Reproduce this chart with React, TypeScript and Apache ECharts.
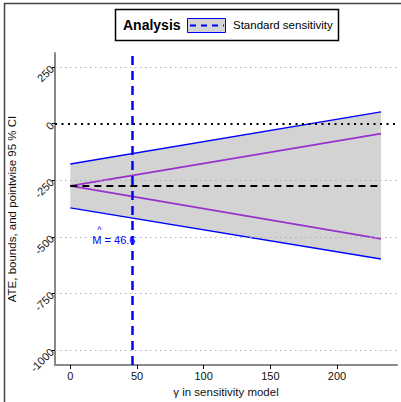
import React, { useEffect, useRef } from "react";
import * as echarts from "echarts";

const gamma = [0, 233];
const ateEstimate = [-275, -275];
const boundLower = [-275, -509];
const boundUpper = [-275, -44];
const ciLower = [-372, -598];
const ciUpper = [-178, 52];
const yTicks = [-1000, -750, -500, -250, 0, 250];
const xTicks = [0, 50, 100, 150, 200];
const gridValues = [-1000, -750, -500, -250, 250];
const mHat = 46.6;
const legendTitle = "Analysis";
const legendLabel = "Standard sensitivity";

const FONT = "Liberation Sans, Arial, sans-serif";

export default function App() {
  const ref = useRef<HTMLDivElement>(null);
  useEffect(() => {
    if (!ref.current) return;
    const chart = echarts.init(ref.current, undefined, { renderer: "svg" });
    const pair = (ys: number[]) => gamma.map((g, i) => [g, ys[i]]);
    const option: any = {
      animation: false,
      backgroundColor: "#ffffff",
      textStyle: { fontFamily: FONT },
      grid: { left: 55, right: 4, top: 53, bottom: 37, containLabel: false, outerBoundsMode: "none" },
      xAxis: {
        type: "value",
        min: -11.5,
        max: 245,
        name: "γ in sensitivity model",
        nameLocation: "middle",
        nameGap: 16,
        nameTextStyle: { fontSize: 11.5, color: "#111", fontFamily: FONT },
        axisLine: { show: true, onZero: false, lineStyle: { color: "#888", width: 2 } },
        axisTick: { show: true, customValues: xTicks, length: 4, lineStyle: { color: "#000", width: 1 } },
        axisLabel: { customValues: xTicks, fontSize: 11, color: "#111", margin: 5, fontFamily: FONT, formatter: (v: number) => String(v) },
        splitLine: { show: false },
      },
      yAxis: {
        type: "value",
        min: -1066,
        max: 312,
        name: "ATE, bounds, and pointwise 95 % CI",
        nameLocation: "middle",
        nameGap: 33,
        nameTextStyle: { fontSize: 11.5, color: "#111", fontFamily: FONT },
        axisLine: { show: true, onZero: false, lineStyle: { color: "#888", width: 2 } },
        axisTick: { show: true, customValues: yTicks, length: 3, lineStyle: { color: "#000", width: 1 } },
        axisLabel: { customValues: yTicks, fontSize: 11, color: "#111", rotate: 45, margin: 3, fontFamily: FONT, formatter: (v: number) => String(v) },
        splitLine: { show: false },
      },
      series: [
        {
          type: "custom",
          z: 1,
          silent: true,
          data: gamma.map((g, i) => [g, ciLower[i], ciUpper[i]]),
          renderItem: (params: any, api: any) => {
            if (params.dataIndex !== 0) return null;
            const up = gamma.map((g, i) => api.coord([g, ciUpper[i]]));
            const lo = gamma.map((g, i) => api.coord([g, ciLower[i]])).reverse();
            return { type: "polygon", shape: { points: [...up, ...lo] }, style: { fill: "#d3d3d3" } };
          },
        },
        {
          type: "line", z: 3, silent: true, symbol: "none", data: pair(ciUpper),
          lineStyle: { color: "#0000ff", width: 1.5 },
        },
        {
          type: "line", z: 3, silent: true, symbol: "none", data: pair(ciLower),
          lineStyle: { color: "#0000ff", width: 1.5 },
        },
        {
          type: "line", z: 3, silent: true, symbol: "none", data: pair(boundUpper),
          lineStyle: { color: "#9932cc", width: 1.6 },
        },
        {
          type: "line", z: 3, silent: true, symbol: "none", data: pair(boundLower),
          lineStyle: { color: "#9932cc", width: 1.6 },
        },
        {
          type: "line", z: 4, silent: true, symbol: "none", data: pair(ateEstimate),
          lineStyle: { color: "#000", width: 2, type: [7, 5] },
          markLine: {
            silent: true,
            symbol: "none",
            label: { show: false },
            data: [
              ...gridValues.map((v) => ({ yAxis: v, lineStyle: { color: "#b0b0b0", width: 1, type: [1.5, 3.5] } })),
              { yAxis: 0, lineStyle: { color: "#000", width: 2, type: [2, 4.5] } },
            ],
          },
        },
        {
          type: "line", z: 6, silent: true, symbol: "none", data: [],
          markLine: {
            silent: true,
            symbol: "none",
            label: { show: false },
            data: [{ xAxis: mHat, lineStyle: { color: "#0000ff", width: 2.5, type: [9, 6] } }],
          },
        },
      ],
    };
    chart.setOption(option);
    const p = chart.convertToPixel({ gridIndex: 0 }, [mHat, -514]) as number[];
    chart.setOption({
      graphic: [
        { type: "line", shape: { x1: 4, y1: 3.5, x2: 401, y2: 3.5 }, style: { stroke: "#444", lineWidth: 1.5 }, z: 10 },
        { type: "line", shape: { x1: 4.5, y1: 3, x2: 4.5, y2: 402 }, style: { stroke: "#444", lineWidth: 1.5 }, z: 10 },
        {
          type: "text", x: p[0] + 3, y: p[1], z: 10,
          style: { text: "M = " + mHat.toFixed(1), fill: "#0000ff", font: `11px ${FONT}`, textAlign: "right", textVerticalAlign: "middle" },
        },
        {
          type: "text", x: p[0] - 33, y: p[1] - 6, z: 10,
          style: { text: "^", fill: "#0000ff", font: `9px ${FONT}`, textAlign: "center", textVerticalAlign: "bottom" },
        },
        { type: "rect", z: 10, shape: { x: 115.5, y: 9.5, width: 223, height: 31 }, style: { fill: "#fff", stroke: "#000", lineWidth: 1.5 } },
        {
          type: "text", x: 123, y: 25, z: 11,
          style: { text: legendTitle, fill: "#000", font: `bold 14px ${FONT}`, textVerticalAlign: "middle" },
        },
        { type: "rect", z: 11, shape: { x: 187.5, y: 18.5, width: 38, height: 14 }, style: { fill: "#d3d3d3", stroke: "#0000ff", lineWidth: 1 } },
        { type: "line", z: 12, shape: { x1: 190, y1: 25.5, x2: 224, y2: 25.5 }, style: { stroke: "#0000ff", lineWidth: 2, lineDash: [6, 5] } },
        {
          type: "text", x: 233, y: 25, z: 11,
          style: { text: legendLabel, fill: "#000", font: `11.5px ${FONT}`, textVerticalAlign: "middle" },
        },
      ],
    });
    return () => chart.dispose();
  }, []);
  return (
    <div
      ref={ref}
      style={{ position: "absolute", left: 0, top: 0, width: 401, height: 402, background: "#fff" }}
    />
  );
}
